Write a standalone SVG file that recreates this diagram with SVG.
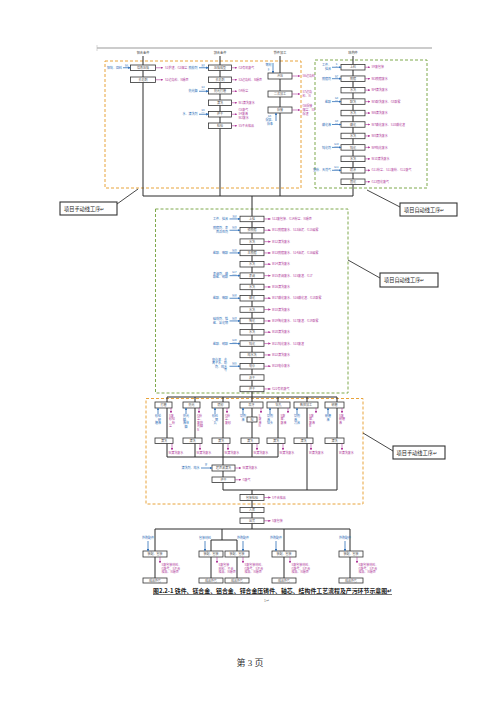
<svg xmlns="http://www.w3.org/2000/svg" width="500" height="707" viewBox="0 0 500 707">
<style>
.b{fill:#fff;stroke:#333;stroke-width:0.8}
.f{stroke:#2b2b2b;stroke-width:1;fill:none}
.bi{stroke:#2e6fb8;stroke-width:0.8;fill:none;marker-end:url(#ab)}
.mo{stroke:#b03a9a;stroke-width:0.6;fill:none;marker-end:url(#am)}
.t{font-family:"Noto Sans CJK SC","Liberation Sans",sans-serif;font-size:3px;fill:#555;text-anchor:middle}
.tl{font-family:"Noto Sans CJK SC","Liberation Sans",sans-serif;font-size:3.2px;fill:#444;text-anchor:middle}
.tb{font-family:"Noto Sans CJK SC","Liberation Sans",sans-serif;font-size:3px;fill:#2e6fb8;text-anchor:end}
.tbm{font-family:"Noto Sans CJK SC","Liberation Sans",sans-serif;font-size:3px;fill:#2e6fb8;text-anchor:middle}
.tc{font-family:"Noto Sans CJK SC","Liberation Sans",sans-serif;font-size:2.4px;fill:#2e6fb8;text-anchor:middle;text-decoration:underline}
.tm{font-family:"Noto Sans CJK SC","Liberation Sans",sans-serif;font-size:3px;fill:#b03a9a}
.od{fill:none;stroke:#e8a33a;stroke-width:1;stroke-dasharray:3,2}
.gd{fill:none;stroke:#7fa94c;stroke-width:1;stroke-dasharray:3,2}
.co{fill:#fff;stroke:#333;stroke-width:1.1}
.ct{font-family:"Noto Sans CJK SC","Liberation Sans",sans-serif;font-size:5.2px;fill:#222}
.ld{stroke:#333;stroke-width:0.9}
</style>
<defs>
<marker id="ab" viewBox="0 0 6 6" refX="5.5" refY="3" markerWidth="2.6" markerHeight="2.6" orient="auto" markerUnits="userSpaceOnUse"><path d="M0,0L6,3L0,6z" fill="#2e6fb8"/></marker>
<marker id="am" viewBox="0 0 6 6" refX="5.5" refY="3" markerWidth="2.4" markerHeight="2.4" orient="auto" markerUnits="userSpaceOnUse"><path d="M0,0L6,3L0,6z" fill="#b03a9a"/></marker>
</defs>
<rect width="500" height="707" fill="#fff"/>
<line x1="97" y1="48" x2="432" y2="48" stroke="#999" stroke-width="1"/>
<line x1="97" y1="45" x2="97" y2="51" stroke="#bbb" stroke-width="0.6"/>

<g id="zones">
<rect class="od" x="105" y="61" width="196" height="127"/>
<rect class="gd" x="315" y="60" width="112" height="128"/>
<rect class="gd" x="155.5" y="209" width="192.5" height="184"/>
<rect class="od" x="146" y="398.5" width="217" height="105.5"/>
</g>

<g id="connectors">
<path class="f" d="M143,56V196M220,56V196M280,56V196M353,56V196M143,196H353M252,196V397"/>
<path class="f" d="M167,397H337M167,397V457M195,397V457M223,397V490M252,397V457M278,397V457M307,397V490M337,397V490M167,457H278M223,490H337M252,490V529"/>
<path class="f" d="M155,529H350M155,529V578M222,529V540M211,540H237M211,540V578M237,540V578M284,529V578M350,529V578"/>
</g>

<g id="top-col1">
<text class="tl" x="143" y="54">铝合金件</text>
<g id="c1n1"><rect class="b" x="130.5" y="65" width="25" height="5.5"/><text class="t" x="143" y="68.9">熔炼压铸</text></g>
<line class="bi" x1="123" y1="67.75" x2="130.5" y2="67.75"/><text class="tb" x="122" y="68.9">铝锭、回料</text><text class="tc" x="126.5" y="65.8">G1</text>
<line class="mo" x1="155.5" y1="67.75" x2="163" y2="67.75"/><text class="tm" x="165" y="68.9">S1炉渣、G2烟尘</text>
<g id="c1n2"><rect class="b" x="130.5" y="77" width="25" height="5.5"/><text class="t" x="143" y="80.9">去毛刺</text></g>
<line class="mo" x1="155.5" y1="79.75" x2="163" y2="79.75"/><text class="tm" x="165" y="80.9">S2边角料、N噪声</text>
</g>

<g id="top-col2">
<text class="tl" x="220" y="54">锌合金件</text>
<g id="c2n1"><rect class="b" x="208.5" y="65" width="23" height="5.5"/><text class="t" x="220" y="68.9">压铸成型</text></g>
<line class="bi" x1="199" y1="67.75" x2="208.5" y2="67.75"/><text class="tb" x="197.5" y="68.9">脱模剂</text><text class="tc" x="203" y="65.8">G3</text>
<line class="mo" x1="231.5" y1="67.75" x2="237" y2="67.75"/><text class="tm" x="238.5" y="68.9">G3有机废气</text>
<g id="c2n2"><rect class="b" x="208.5" y="77" width="23" height="5.5"/><text class="t" x="220" y="80.9">去毛刺</text></g>
<line class="mo" x1="231.5" y1="79.75" x2="237" y2="79.75"/><text class="tm" x="238.5" y="80.9">S3边角料、N噪声</text>
<g id="c2n3"><rect class="b" x="208.5" y="88.5" width="23" height="5.5"/><text class="t" x="220" y="92.4">抛光打磨</text></g>
<line class="bi" x1="199" y1="91.25" x2="208.5" y2="91.25"/><text class="tb" x="197.5" y="92.4">抛光蜡</text><text class="tc" x="203" y="88.3">G4</text>
<line class="mo" x1="231.5" y1="91.25" x2="237" y2="91.25"/><text class="tm" x="238.5" y="92.4">G4粉尘</text>
<g id="c2n4"><rect class="b" x="208.5" y="100" width="23" height="5.5"/><text class="t" x="220" y="103.9">清洗</text></g>
<line class="mo" x1="231.5" y1="102.75" x2="237" y2="102.75"/><text class="tm" x="238.5" y="103.9">W1清洗废水</text>
<g id="c2n5"><rect class="b" x="208.5" y="111.5" width="23" height="5.5"/><text class="t" x="220" y="115.4">烘干</text></g>
<line class="bi" x1="199" y1="114.25" x2="208.5" y2="114.25"/><text class="tb" x="197.5" y="115.4">水、清洗剂</text><text class="tc" x="203" y="111.3">G5</text>
<line class="mo" x1="231.5" y1="114.25" x2="237" y2="114.25"/><text class="tm" x="238.5" y="111.4">G5废气</text><text class="tm" x="238.5" y="115.4">S4废液</text><text class="tm" x="238.5" y="119.4">W2废水</text>
<g id="c2n6"><rect class="b" x="208.5" y="123" width="23" height="5.5"/><text class="t" x="220" y="126.9">检验</text></g>
<line class="mo" x1="231.5" y1="125.75" x2="237" y2="125.75"/><text class="tm" x="238.5" y="126.9">S5不合格品</text>
</g>

<g id="top-col3">
<text class="tl" x="280" y="54">铁件加工</text>
<line class="bi" x1="273" y1="63" x2="273" y2="73"/><text class="tbm" x="268.5" y="66">钢材</text><text class="tc" x="268.5" y="69.5">S</text>
<g id="c3n1"><rect class="b" x="268" y="73" width="24" height="6"/><text class="t" x="280" y="77.1">冲压</text></g>
<line class="mo" x1="292" y1="76" x2="300" y2="76"/><text class="tm" x="302.5" y="77.1">S6边角料</text>
<g id="c3n2"><rect class="b" x="268" y="91" width="24" height="6"/><text class="t" x="280" y="95.1">二次加工</text></g>
<line class="mo" x1="292" y1="94" x2="300" y2="94"/><text class="tm" x="302.5" y="93">S7边角</text><text class="tm" x="302.5" y="96.8">料、N</text>
<g id="c3n3"><rect class="b" x="268" y="107" width="24" height="6"/><text class="t" x="280" y="111.1">焊接</text></g>
<line class="mo" x1="292" y1="110" x2="300" y2="110"/><text class="tm" x="302.5" y="107.3">G6焊接</text><text class="tm" x="302.5" y="111.1">烟尘、S8</text><text class="tm" x="302.5" y="114.9">焊渣</text>
<line class="bi" x1="276" y1="121" x2="276" y2="113"/><text class="tc" x="269.5" y="117">G6</text><text class="tbm" x="270" y="121">焊丝、</text><text class="tbm" x="270" y="124.5">焊条</text>
</g>

<g id="top-col4">
<text class="tl" x="353" y="54">结构件</text>
<g id="c4n1"><rect class="b" x="341" y="64.5" width="24" height="5.5"/><text class="t" x="353" y="68.4">上料</text></g>
<line class="bi" x1="332" y1="67.25" x2="341" y2="67.25"/><text class="tb" x="331" y="66.4">工件、</text><text class="tb" x="331" y="69.8">挂具</text><text class="tc" x="336.5" y="65">S</text>
<line class="mo" x1="365" y1="67.25" x2="370" y2="67.25"/><text class="tm" x="371.5" y="68.4">S9废包装</text>
<g id="c4n2"><rect class="b" x="341" y="75.95" width="24" height="5.5"/><text class="t" x="353" y="79.8">脱脂</text></g>
<line class="bi" x1="332" y1="78.7" x2="341" y2="78.7"/><text class="tb" x="331" y="79.8">脱脂剂</text><text class="tc" x="336.5" y="76.5">G7</text>
<line class="mo" x1="365" y1="78.7" x2="370" y2="78.7"/><text class="tm" x="371.5" y="79.8">W3脱脂废水</text>
<g id="c4n3"><rect class="b" x="341" y="87.4" width="24" height="5.5"/><text class="t" x="353" y="91.3">水洗</text></g>
<line class="mo" x1="365" y1="90.15" x2="370" y2="90.15"/><text class="tm" x="371.5" y="91.3">W4清洗废水</text>
<g id="c4n4"><rect class="b" x="341" y="98.85" width="24" height="5.5"/><text class="t" x="353" y="102.7">酸洗</text></g>
<line class="bi" x1="332" y1="101.6" x2="341" y2="101.6"/><text class="tb" x="331" y="102.7">盐酸</text><text class="tc" x="336.5" y="99.4">G8</text>
<line class="mo" x1="365" y1="101.6" x2="370" y2="101.6"/><text class="tm" x="371.5" y="102.7">W5酸洗废水、G8酸雾</text>
<g id="c4n5"><rect class="b" x="341" y="110.3" width="24" height="5.5"/><text class="t" x="353" y="114.2">水洗</text></g>
<line class="mo" x1="365" y1="113.05" x2="370" y2="113.05"/><text class="tm" x="371.5" y="114.2">W6清洗废水</text>
<g id="c4n6"><rect class="b" x="341" y="121.75" width="24" height="5.5"/><text class="t" x="353" y="125.6">磷化</text></g>
<line class="bi" x1="332" y1="124.5" x2="341" y2="124.5"/><text class="tb" x="331" y="125.6">磷化液</text><text class="tc" x="336.5" y="122.3">G9</text>
<line class="mo" x1="365" y1="124.5" x2="370" y2="124.5"/><text class="tm" x="371.5" y="125.6">W7磷化废水、S10磷化渣</text>
<g id="c4n7"><rect class="b" x="341" y="133.2" width="24" height="5.5"/><text class="t" x="353" y="137.1">水洗</text></g>
<line class="mo" x1="365" y1="135.95" x2="370" y2="135.95"/><text class="tm" x="371.5" y="137.1">W8清洗废水</text>
<g id="c4n8"><rect class="b" x="341" y="144.65" width="24" height="5.5"/><text class="t" x="353" y="148.5">钝化</text></g>
<line class="bi" x1="332" y1="147.4" x2="341" y2="147.4"/><text class="tb" x="331" y="148.5">钝化剂</text><text class="tc" x="336.5" y="145.2">G10</text>
<line class="mo" x1="365" y1="147.4" x2="370" y2="147.4"/><text class="tm" x="371.5" y="148.5">W9钝化废水</text>
<g id="c4n9"><rect class="b" x="341" y="156.1" width="24" height="5.5"/><text class="t" x="353" y="160">水洗</text></g>
<line class="mo" x1="365" y1="158.85" x2="370" y2="158.85"/><text class="tm" x="371.5" y="160">W10清洗废水</text>
<g id="c4n10"><rect class="b" x="341" y="167.55" width="24" height="5.5"/><text class="t" x="353" y="171.4">喷涂</text></g>
<line class="bi" x1="332" y1="170.3" x2="341" y2="170.3"/><text class="tb" x="331" y="171.4">塑粉、天然气</text><text class="tc" x="336.5" y="168.1">G11</text>
<line class="mo" x1="365" y1="170.3" x2="370" y2="170.3"/><text class="tm" x="371.5" y="171.4">G11粉尘、S11废粉、G12废气</text>
<g id="c4n11"><rect class="b" x="341" y="179" width="24" height="5.5"/><text class="t" x="353" y="182.9">固化</text></g>
<line class="mo" x1="365" y1="181.75" x2="370" y2="181.75"/><text class="tm" x="371.5" y="182.9">G13固化废气</text>
</g>

<g id="mid">
<g id="m0"><rect class="b" x="240" y="216.2" width="24" height="5.5"/><text class="t" x="252" y="220.1">上挂</text></g>
<line class="bi" x1="229.5" y1="218.95" x2="240" y2="218.95"/><text class="tb" x="228" y="220.1">工件、挂具</text><text class="tc" x="234.5" y="216.5">S12</text>
<line class="mo" x1="264" y1="218.95" x2="270.5" y2="218.95"/><text class="tm" x="272" y="220.1">S12废包装、G14粉尘、N噪声</text>
<g id="m1"><rect class="b" x="240" y="227.5" width="24" height="5.5"/><text class="t" x="252" y="231.4">预脱脂</text></g>
<line class="bi" x1="229.5" y1="230.25" x2="240" y2="230.25"/><text class="tb" x="228" y="229.4">脱脂剂、表</text><text class="tb" x="228" y="232.9">面活性剂</text><text class="tc" x="234.5" y="227.8">G15</text>
<line class="mo" x1="264" y1="230.25" x2="270.5" y2="230.25"/><text class="tm" x="272" y="231.4">W11脱脂废水、S13油泥、G15碱雾</text>
<g id="m2"><rect class="b" x="240" y="238.9" width="24" height="5.5"/><text class="t" x="252" y="242.8">水洗</text></g>
<line class="mo" x1="264" y1="241.65" x2="270.5" y2="241.65"/><text class="tm" x="272" y="242.8">W12清洗废水</text>
<g id="m3"><rect class="b" x="240" y="250.2" width="24" height="5.5"/><text class="t" x="252" y="254.1">主脱脂</text></g>
<line class="bi" x1="229.5" y1="252.95" x2="240" y2="252.95"/><text class="tb" x="228" y="254.1">盐酸、硫酸</text><text class="tc" x="234.5" y="250.5">G16</text>
<line class="mo" x1="264" y1="252.95" x2="270.5" y2="252.95"/><text class="tm" x="272" y="254.1">W13脱脂废水、S14油泥、G16碱雾</text>
<g id="m4"><rect class="b" x="240" y="261.5" width="24" height="5.5"/><text class="t" x="252" y="265.4">水洗</text></g>
<line class="mo" x1="264" y1="264.25" x2="270.5" y2="264.25"/><text class="tm" x="272" y="265.4">W14清洗废水</text>
<g id="m5"><rect class="b" x="240" y="272.9" width="24" height="5.5"/><text class="t" x="252" y="276.8">表调</text></g>
<line class="bi" x1="229.5" y1="275.65" x2="240" y2="275.65"/><text class="tb" x="228" y="274.8">表调剂、磷</text><text class="tb" x="228" y="278.3">酸盐、硝酸</text><text class="tc" x="234.5" y="273.2">G17</text>
<line class="mo" x1="264" y1="275.65" x2="270.5" y2="275.65"/><text class="tm" x="272" y="276.8">W15表调废水、S15废渣、G17</text>
<g id="m6"><rect class="b" x="240" y="284.2" width="24" height="5.5"/><text class="t" x="252" y="288.1">水洗</text></g>
<line class="mo" x1="264" y1="286.95" x2="270.5" y2="286.95"/><text class="tm" x="272" y="288.1">W16清洗废水</text>
<g id="m7"><rect class="b" x="240" y="295.5" width="24" height="5.5"/><text class="t" x="252" y="299.4">磷化</text></g>
<line class="bi" x1="229.5" y1="298.25" x2="240" y2="298.25"/><text class="tb" x="228" y="299.4">盐酸、硫酸</text><text class="tc" x="234.5" y="295.8">G18</text>
<line class="mo" x1="264" y1="298.25" x2="270.5" y2="298.25"/><text class="tm" x="272" y="299.4">W17磷化废水、S16磷化渣、G18酸雾</text>
<g id="m8"><rect class="b" x="240" y="306.8" width="24" height="5.5"/><text class="t" x="252" y="310.7">水洗</text></g>
<line class="mo" x1="264" y1="309.55" x2="270.5" y2="309.55"/><text class="tm" x="272" y="310.7">W18清洗废水</text>
<g id="m9"><rect class="b" x="240" y="318.2" width="24" height="5.5"/><text class="t" x="252" y="322.1">陶化</text></g>
<line class="bi" x1="229.5" y1="320.95" x2="240" y2="320.95"/><text class="tb" x="228" y="320.1">硅烷剂、锆</text><text class="tb" x="228" y="323.6">盐、氟化物</text><text class="tc" x="234.5" y="318.5">G19</text>
<line class="mo" x1="264" y1="320.95" x2="270.5" y2="320.95"/><text class="tm" x="272" y="322.1">W19陶化废水、S17废渣、G19酸雾</text>
<g id="m10"><rect class="b" x="240" y="329.5" width="24" height="5.5"/><text class="t" x="252" y="333.4">水洗</text></g>
<line class="mo" x1="264" y1="332.25" x2="270.5" y2="332.25"/><text class="tm" x="272" y="333.4">W20清洗废水</text>
<g id="m11"><rect class="b" x="240" y="340.8" width="24" height="5.5"/><text class="t" x="252" y="344.7">钝化</text></g>
<line class="bi" x1="229.5" y1="343.55" x2="240" y2="343.55"/><text class="tb" x="228" y="344.7">盐酸、硝酸</text><text class="tc" x="234.5" y="341.1">G20</text>
<line class="mo" x1="264" y1="343.55" x2="270.5" y2="343.55"/><text class="tm" x="272" y="344.7">W21钝化废水、S18废渣</text>
<g id="m12"><rect class="b" x="240" y="352.2" width="24" height="5.5"/><text class="t" x="252" y="356.1">纯水洗</text></g>
<line class="mo" x1="264" y1="354.95" x2="270.5" y2="354.95"/><text class="tm" x="272" y="356.1">W22清洗废水</text>
<g id="m13"><rect class="b" x="240" y="363.5" width="24" height="5.5"/><text class="t" x="252" y="367.4">电泳</text></g>
<line class="bi" x1="229.5" y1="366.25" x2="240" y2="366.25"/><text class="tb" x="227" y="360.5">电泳漆、去</text><text class="tb" x="227" y="364">离子水、助</text><text class="tb" x="227" y="367.5">剂、纯水</text><text class="tb" x="227" y="371">等</text><text class="tc" x="234.5" y="363.8">G21</text>
<line class="mo" x1="264" y1="366.25" x2="270.5" y2="366.25"/><text class="tm" x="272" y="367.4">W23电泳废水</text>
<g id="m14"><rect class="b" x="240" y="374.8" width="24" height="5.5"/><text class="t" x="252" y="378.7">沥干</text></g>
<g id="m15"><rect class="b" x="240" y="386.2" width="24" height="5.5"/><text class="t" x="252" y="390.1">烘干</text></g>
<line class="mo" x1="264" y1="388.95" x2="270.5" y2="388.95"/><text class="tm" x="272" y="390.1">G22有机废气</text>
</g>

<g id="low">
<g id="l1a"><rect class="b" x="155" y="402" width="17" height="6"/><text class="t" x="163.5" y="406.1">打磨</text></g>
<g id="l2a"><rect class="b" x="183" y="402" width="17" height="6"/><text class="t" x="191.5" y="406.1">抛光</text></g>
<g id="l3a"><rect class="b" x="212" y="402" width="17" height="6"/><text class="t" x="220.5" y="406.1">喷砂</text></g>
<g id="l4a"><rect class="b" x="240" y="402" width="23" height="6"/><text class="t" x="251.5" y="406.1">攻牙</text></g>
<g id="l5a"><rect class="b" x="267" y="402" width="23" height="6"/><text class="t" x="278.5" y="406.1">钻孔</text></g>
<g id="l6a"><rect class="b" x="294" y="402" width="24" height="6"/><text class="t" x="306" y="406.1">数控加工</text></g>
<g id="l7a"><rect class="b" x="325" y="402" width="19" height="6"/><text class="t" x="334.5" y="406.1">研磨</text></g>
<g id="l4s"><rect class="b" x="247" y="417" width="10" height="5"/><text class="t" x="252" y="420.6">检</text></g>
<g id="l1b"><rect class="b" x="155" y="438" width="18" height="5.5"/><text class="t" x="164" y="441.9">清洗</text></g>
<g id="l2b"><rect class="b" x="183" y="438" width="19" height="5.5"/><text class="t" x="192.5" y="441.9">清洗</text></g>
<g id="l3b"><rect class="b" x="212" y="438" width="18" height="5.5"/><text class="t" x="221" y="441.9">清洗</text></g>
<g id="l4b"><rect class="b" x="241" y="438" width="18" height="5.5"/><text class="t" x="250" y="441.9">清洗</text></g>
<g id="l5b"><rect class="b" x="267" y="438" width="18" height="5.5"/><text class="t" x="276" y="441.9">清洗</text></g>
<g id="l6b"><rect class="b" x="294" y="438" width="19" height="5.5"/><text class="t" x="303.5" y="441.9">清洗</text></g>
<g id="l7b"><rect class="b" x="325" y="438" width="19" height="5.5"/><text class="t" x="334.5" y="441.9">清洗</text></g>

<line class="bi" x1="158" y1="414" x2="158" y2="408"/><text class="tbm" x="158" y="417">砂轮</text><text class="tbm" x="158" y="420.5">、研</text><text class="tbm" x="158" y="424">磨液</text>
<line class="bi" x1="186" y1="414" x2="186" y2="408"/><text class="tbm" x="186" y="417">抛光</text><text class="tbm" x="186" y="420.5">蜡、</text><text class="tbm" x="186" y="424">液体</text><text class="tbm" x="186" y="427.5">蜡</text>
<line class="bi" x1="215" y1="414" x2="215" y2="408"/><text class="tbm" x="215" y="417">砂料</text><text class="tbm" x="215" y="420.5">、钢</text><text class="tbm" x="215" y="424">丸</text>
<line class="bi" x1="243" y1="414" x2="243" y2="408"/><text class="tbm" x="243" y="417">切削</text><text class="tbm" x="243" y="420.5">液</text>
<line class="bi" x1="270" y1="414" x2="270" y2="408"/><text class="tbm" x="270" y="417">切削</text><text class="tbm" x="270" y="420.5">液、</text><text class="tbm" x="270" y="424">钻头</text>
<line class="bi" x1="297" y1="414" x2="297" y2="408"/><text class="tbm" x="297" y="417">切削</text><text class="tbm" x="297" y="420.5">液、</text><text class="tbm" x="297" y="424">刀具</text>
<line class="bi" x1="328" y1="414" x2="328" y2="408"/><text class="tbm" x="328" y="417">研磨</text><text class="tbm" x="328" y="420.5">液</text>

<line class="mo" x1="171" y1="408" x2="171" y2="413"/><text class="tm" x="169" y="416.5">S废</text><text class="tm" x="169" y="420">砂轮</text><text class="tm" x="169" y="423.5">、粉</text><text class="tm" x="169" y="427">尘</text>
<line class="mo" x1="199" y1="408" x2="199" y2="413"/><text class="tm" x="197" y="416.5">G粉</text><text class="tm" x="197" y="420">尘、</text><text class="tm" x="197" y="423.5">废抛</text><text class="tm" x="197" y="427">光蜡</text><text class="tm" x="197" y="430.5">N</text>
<line class="mo" x1="227" y1="408" x2="227" y2="413"/><text class="tm" x="225" y="416.5">G粉</text><text class="tm" x="225" y="420">尘、</text><text class="tm" x="225" y="423.5">废砂</text>
<line class="mo" x1="261" y1="408" x2="261" y2="413"/><text class="tm" x="258.5" y="416.5">S</text><text class="tm" x="258.5" y="420">废</text><text class="tm" x="258.5" y="423.5">液</text><text class="tm" x="258.5" y="427">N</text>
<line class="mo" x1="288" y1="408" x2="288" y2="413"/><text class="tm" x="280.5" y="416.5">S废</text><text class="tm" x="280.5" y="420">屑、</text><text class="tm" x="280.5" y="423.5">废液</text>
<line class="mo" x1="316" y1="408" x2="316" y2="413"/><text class="tm" x="309" y="416.5">S废</text><text class="tm" x="309" y="420">屑、</text><text class="tm" x="309" y="423.5">废液</text><text class="tm" x="309" y="427">N</text>
<line class="mo" x1="342" y1="408" x2="342" y2="413"/><text class="tm" x="339" y="416.5">S废</text><text class="tm" x="339" y="420">研磨</text><text class="tm" x="339" y="423.5">液</text>

<line class="mo" x1="172" y1="443.5" x2="172" y2="450"/><text class="tm" x="168.5" y="453.5">W清洗废水</text>
<line class="mo" x1="200" y1="443.5" x2="200" y2="450"/><text class="tm" x="196.5" y="453.5">W清洗废水</text>
<line class="mo" x1="228" y1="443.5" x2="228" y2="450"/><text class="tm" x="224.5" y="453.5">W清洗废水</text>
<line class="mo" x1="257" y1="443.5" x2="257" y2="450"/><text class="tm" x="253.5" y="453.5">W清洗废水</text>
<line class="mo" x1="283" y1="443.5" x2="283" y2="450"/><text class="tm" x="279.5" y="453.5">W清洗废水</text>
<line class="mo" x1="311" y1="443.5" x2="311" y2="450"/><text class="tm" x="309" y="453.5">W清洗废水</text>
<line class="mo" x1="342" y1="443.5" x2="342" y2="450"/><text class="tm" x="339" y="453.5">W清洗废水</text>

<g id="l-wash"><rect class="b" x="212" y="465" width="23" height="6"/><text class="t" x="223.5" y="469.1">超声波清洗</text></g>
<line class="bi" x1="201" y1="468" x2="212" y2="468"/><text class="tb" x="199.5" y="469.1">清洗剂、纯水</text><text class="tc" x="206" y="464.5">W</text>
<line class="mo" x1="235" y1="468" x2="241" y2="468"/><text class="tm" x="242.5" y="469.1">W清洗废水</text>
<g id="l-dry"><rect class="b" x="212" y="477" width="23" height="5.5"/><text class="t" x="223.5" y="480.9">烘干</text></g>
<line class="mo" x1="235" y1="479.75" x2="241" y2="479.75"/><text class="tm" x="242.5" y="480.9">G废气</text>
</g>

<g id="main-end">
<g id="e1"><rect class="b" x="240" y="494.5" width="24" height="6"/><text class="t" x="252" y="498.6">包装检验</text></g>
<line class="mo" x1="264" y1="497.5" x2="270.5" y2="497.5"/><text class="tm" x="272" y="498.6">S不合格品</text>
<g id="e2"><rect class="b" x="240" y="507.5" width="24" height="5"/><text class="t" x="252" y="511.1">入库</text></g>
<g id="e3"><rect class="b" x="240" y="518" width="24" height="5.5"/><text class="t" x="252" y="521.9">出货</text></g>
<line class="mo" x1="264" y1="520.75" x2="270.5" y2="520.75"/><text class="tm" x="272" y="521.9">S废包装</text>
</g>

<g id="bottom">
<g id="ba1"><rect class="b" x="143" y="551" width="24" height="6"/><text class="t" x="155" y="555.1">装配、包装</text></g>
<g id="bb1"><rect class="b" x="199" y="551" width="24" height="6"/><text class="t" x="211" y="555.1">装配、包装</text></g>
<g id="bc1"><rect class="b" x="225" y="551" width="24" height="6"/><text class="t" x="237" y="555.1">装配、包装</text></g>
<g id="bd1"><rect class="b" x="272" y="551" width="24" height="6"/><text class="t" x="284" y="555.1">装配、包装</text></g>
<g id="be1"><rect class="b" x="339" y="551" width="24" height="6"/><text class="t" x="351" y="555.1">装配、包装</text></g>
<line class="bi" x1="148" y1="541" x2="148" y2="551"/><text class="tbm" x="148" y="539">外购配件</text>
<line class="bi" x1="205" y1="541" x2="205" y2="551"/><text class="tbm" x="205" y="539">包装材料</text>
<line class="bi" x1="243" y1="541" x2="243" y2="551"/><text class="tbm" x="243" y="539">外购配件</text>
<line class="bi" x1="276" y1="541" x2="276" y2="551"/><text class="tbm" x="276" y="539">外购配件</text>
<line class="bi" x1="345" y1="541" x2="345" y2="551"/><text class="tbm" x="345" y="539">外购配件</text>
<line class="mo" x1="160" y1="557" x2="160" y2="563"/><text class="tm" x="161.5" y="566">S废包装材料、</text><text class="tm" x="161.5" y="569.5">G废气、S不合</text><text class="tm" x="161.5" y="573">格品、N噪声</text>
<line class="mo" x1="217" y1="557" x2="217" y2="563"/><text class="tm" x="218.5" y="566">S废包装</text><text class="tm" x="218.5" y="569.5">材料、不合</text><text class="tm" x="218.5" y="573">格品、N噪声</text>
<line class="mo" x1="243" y1="557" x2="243" y2="563"/><text class="tm" x="244.5" y="566">S废包装材料、</text><text class="tm" x="244.5" y="569.5">G废气、S不合</text><text class="tm" x="244.5" y="573">格品、N噪声</text>
<line class="mo" x1="290" y1="557" x2="290" y2="563"/><text class="tm" x="291.5" y="566">S废包装材料、</text><text class="tm" x="291.5" y="569.5">G废气、S不合</text><text class="tm" x="291.5" y="573">格品、N噪声</text>
<line class="mo" x1="357" y1="557" x2="357" y2="563"/><text class="tm" x="358.5" y="566">S废包装材料、</text><text class="tm" x="358.5" y="569.5">G废气、S不合</text><text class="tm" x="358.5" y="573">格品、N噪声</text>
<g id="ba2"><rect class="b" x="143" y="578" width="24" height="5"/><text class="t" x="155" y="581.6">成品外售</text></g>
<g id="bb2"><rect class="b" x="199" y="578" width="24" height="5"/><text class="t" x="211" y="581.6">成品外售</text></g>
<g id="bc2"><rect class="b" x="225" y="578" width="24" height="5"/><text class="t" x="237" y="581.6">成品外售</text></g>
<g id="bd2"><rect class="b" x="272" y="578" width="24" height="5"/><text class="t" x="284" y="581.6">成品外售</text></g>
<g id="be2"><rect class="b" x="339" y="578" width="24" height="5"/><text class="t" x="351" y="581.6">成品外售</text></g>
</g>

<g id="callouts">
<line class="ld" x1="117" y1="204" x2="138" y2="189"/>
<g id="co1"><rect class="co" x="60" y="202" width="57" height="13"/><text class="ct" x="64" y="210.5">项目手动线工序↵</text></g>
<line class="ld" x1="367" y1="190" x2="400" y2="207"/>
<g id="co2"><rect class="co" x="400" y="203" width="57" height="13"/><text class="ct" x="404" y="211.5">项目自动线工序↵</text></g>
<line class="ld" x1="348" y1="260" x2="380" y2="278"/>
<g id="co3"><rect class="co" x="380" y="273" width="58" height="14"/><text class="ct" x="384" y="282">项目自动线工序↵</text></g>
<line class="ld" x1="363" y1="433" x2="393" y2="451"/>
<g id="co4"><rect class="co" x="393" y="446" width="52" height="13"/><text class="ct" x="396.5" y="454.5">项目手动线工序↵</text></g>
</g>

<text x="153" y="593" textLength="239" lengthAdjust="spacingAndGlyphs" font-family="Noto Sans CJK SC, Liberation Sans, sans-serif" font-size="6" font-weight="bold" fill="#222" text-decoration="underline">图2.2-1  铁件、镁合金、铝合金、锌合金压铸件、轴芯、结构件工艺流程及产污环节示意图↵</text>
<text x="264" y="602" font-family="Liberation Sans, sans-serif" font-size="3.5" fill="#777">1↵</text>
<text x="250" y="666" text-anchor="middle" font-family="Liberation Serif, Noto Sans CJK SC, serif" font-size="9" fill="#333">第 3 页</text>
</svg>
